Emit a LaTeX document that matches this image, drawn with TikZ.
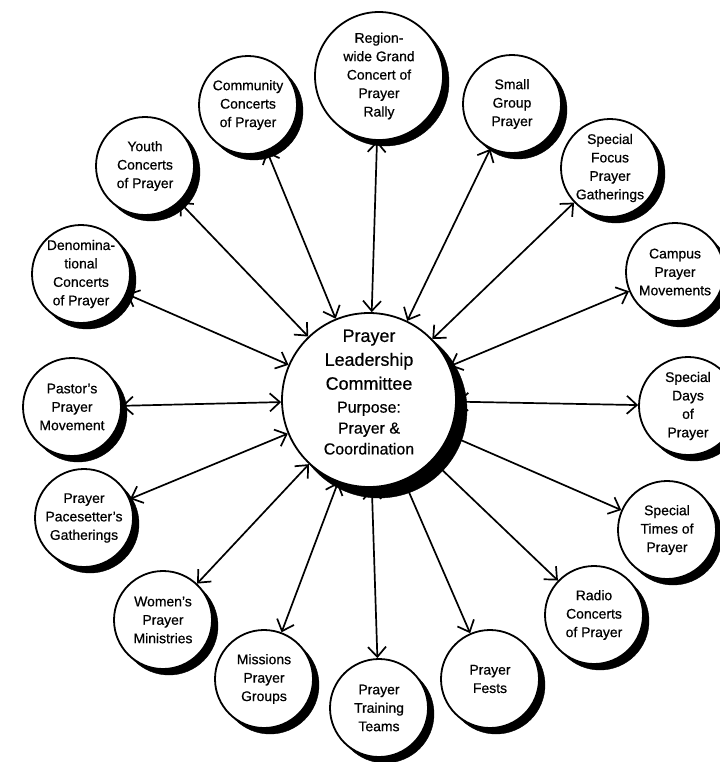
\documentclass[tikz,border=0pt]{standalone}
\usepackage{fontspec}
\setmainfont{Liberation Sans}[FakeBold=0.6]
\usetikzlibrary{arrows.meta}

\begin{document}
\begin{tikzpicture}[>={Straight Barb[length=10bp,width=18bp]},
						topic/.style={circle, draw, line width=1.8bp,
						fill=white, minimum size=98bp, inner sep=0pt,
						align=center, font=\fontsize{14}{18.5}\selectfont},
						hub/.style={topic, minimum size=174bp,
						font=\fontsize{18}{24}\selectfont},
						topic shadow/.style={fill=black, draw=black},
						link/.style={<->, line width=1.7bp}]

		\useasboundingbox (0bp,0bp) rectangle (720bp,-762bp);

		% shadows, lower right
		\fill[topic shadow] (379bp,-410bp) circle[radius=88bp];
		\fill[topic shadow] (385bp,-82bp) circle[radius=64bp];
		\fill[topic shadow] (518bp,-110bp) circle[radius=49bp];
		\fill[topic shadow] (616bp,-174bp) circle[radius=49bp];
		\fill[topic shadow] (681bp,-278bp) circle[radius=49bp];
		\fill[topic shadow] (694bp,-412bp) circle[radius=49bp];
		\fill[topic shadow] (673bp,-536bp) circle[radius=49bp];
		\fill[topic shadow] (600bp,-621bp) circle[radius=49bp];
		\fill[topic shadow] (496bp,-685bp) circle[radius=49bp];
		\fill[topic shadow] (385bp,-714bp) circle[radius=49bp];
		\fill[topic shadow] (270bp,-685bp) circle[radius=49bp];
		\fill[topic shadow] (169bp,-626bp) circle[radius=49bp];
		\fill[topic shadow] (90bp,-524bp) circle[radius=49bp];
		\fill[topic shadow] (78bp,-413bp) circle[radius=49bp];
		\fill[topic shadow] (87bp,-280bp) circle[radius=49bp];
		\fill[topic shadow] (151bp,-172bp) circle[radius=49bp];
		\fill[topic shadow] (254bp,-111bp) circle[radius=49bp];

		\node[hub, text depth=16bp] (plc) at (369bp,-400bp) {Prayer\\Leadership\\Committee\\[-1bp]\fontsize{16}{21}\selectfont Purpose:\\[-3bp]\fontsize{16}{21}\selectfont Prayer \&\\[-3bp]\fontsize{16}{21}\selectfont Coordination};

		\node[topic, minimum size=128bp] (rally) at (379bp,-76bp) {Region-\\wide Grand\\Concert of\\Prayer\\Rally};
		\node[topic] (smallgroup) at (512bp,-104bp) {Small\\Group\\Prayer};
		\node[topic] (focus) at (610bp,-168bp) {Special\\Focus\\Prayer\\Gatherings};
		\node[topic] (campus) at (675bp,-272bp) {Campus\\Prayer\\Movements};
		\node[topic] (days) at (688bp,-406bp) {Special\\Days\\of\\Prayer};
		\node[topic] (times) at (667bp,-530bp) {Special\\Times of\\Prayer};
		\node[topic] (radio) at (594bp,-615bp) {Radio\\Concerts\\of Prayer};
		\node[topic] (fests) at (490bp,-679bp) {Prayer\\Fests};
		\node[topic] (training) at (379bp,-708bp) {Prayer\\Training\\Teams};
		\node[topic] (missions) at (264bp,-679bp) {Missions\\Prayer\\Groups};
		\node[topic] (women) at (163bp,-620bp) {Women's\\Prayer\\Ministries};
		\node[topic] (pacesetter) at (84bp,-518bp) {Prayer\\Pacesetter's\\Gatherings};
		\node[topic] (pastor) at (72bp,-407bp) {Pastor's\\Prayer\\Movement};
		\node[topic] (denom) at (81bp,-274bp) {Denomina-\\tional\\Concerts\\of Prayer};
		\node[topic] (youth) at (145bp,-166bp) {Youth\\Concerts\\of Prayer};
		\node[topic] (community) at (248bp,-105bp) {Community\\Concerts\\of Prayer};

		\draw[link] (plc) -- (rally);
		\draw[link] (plc) -- (smallgroup);
		\draw[link] (plc) -- (focus);
		\draw[link] (plc) -- (campus);
		\draw[link] (plc) -- (days);
		\draw[link] (plc) -- (times);
		\draw[link] (plc) -- (radio);
		\draw[link] (plc) -- (fests);
		\draw[link] (plc) -- (training);
		\draw[link] (plc) -- (missions);
		\draw[link] (plc) -- (women);
		\draw[link] (plc) -- (pacesetter);
		\draw[link] (plc) -- (pastor);
		\draw[link] (plc) -- (denom);
		\draw[link] (plc) -- (youth);
		\draw[link] (plc) -- (community);

	\end{tikzpicture}
\end{document}
